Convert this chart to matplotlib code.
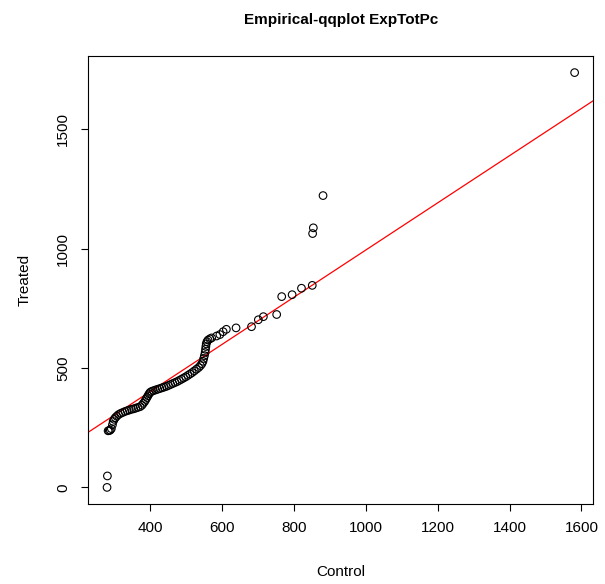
import matplotlib
matplotlib.use("Agg")
import matplotlib.pyplot as plt
import numpy as np

plt.rcParams['font.family'] = ['Liberation Sans', 'DejaVu Sans']

control = [280, 281, 283, 286, 289, 292, 295, 297, 300, 303, 307, 312, 318, 324, 330, 336,
           342, 348, 354, 360, 366, 372, 377, 381, 385, 388, 391, 394, 397, 400, 404, 409,
           415, 421, 427, 433, 439, 445, 451, 457, 463, 469, 475, 481, 487, 493, 499, 505,
           511, 517, 523, 529, 535, 540, 544, 547, 549, 551, 553, 554, 555, 556, 558, 561,
           566, 571, 585, 594, 603, 612, 639, 682, 701, 715, 752, 766, 795, 821, 851, 852,
           854, 881, 1581]
treated = [0, 48, 237, 238, 240, 246, 262, 276, 285, 292, 298, 305, 310, 314, 318, 321,
           324, 327, 329, 332, 335, 338, 344, 352, 360, 368, 376, 384, 392, 398, 402, 405,
           408, 411, 414, 417, 420, 423, 427, 431, 435, 439, 443, 448, 453, 458, 463, 469,
           475, 481, 488, 495, 502, 510, 518, 528, 540, 552, 565, 578, 590, 601, 610, 617,
           622, 626, 634, 640, 652, 662, 668, 673, 702, 715, 724, 799, 807, 834, 846, 1063,
           1087, 1222, 1737]

line_intercept = 6.0
line_slope = 0.988

x_ticks = [400, 600, 800, 1000, 1200, 1400, 1600]
y_ticks = [0, 500, 1000, 1500]

fig = plt.figure(figsize=(6.05, 5.84), dpi=100)
ax = fig.add_axes([0.146, 0.137, 0.9807 - 0.146, 0.9041 - 0.137])

ax.scatter(control, treated, s=30, facecolors='none', edgecolors='black', linewidths=0.8, zorder=3)

xmin, xmax = min(control), max(control)
ymin, ymax = min(treated), max(treated)
xr, yr = xmax - xmin, ymax - ymin
ax.set_xlim(xmin - 0.04 * xr, xmax + 0.04 * xr)
ax.set_ylim(ymin - 0.04 * yr, ymax + 0.04 * yr)
ax.axline((0, line_intercept), slope=line_slope, color='red', linewidth=0.9, zorder=2)

ax.set_xticks(x_ticks)
ax.set_yticks(y_ticks)
ax.set_yticklabels([str(v) for v in y_ticks], rotation=90, va='center')
ax.tick_params(axis='both', direction='out', length=5, width=0.8, labelsize=11)
ax.tick_params(axis='x', pad=7)
ax.tick_params(axis='y', pad=8)
for sp in ax.spines.values():
    sp.set_linewidth(0.8)

ax.set_title('Empirical-qqplot ExpTotPc', fontsize=11, fontweight='bold', pad=23)
ax.set_xlabel('Control', fontsize=11, labelpad=22)
ax.set_ylabel('Treated', fontsize=11, labelpad=18)

fig.savefig('out.png', dpi=100)
